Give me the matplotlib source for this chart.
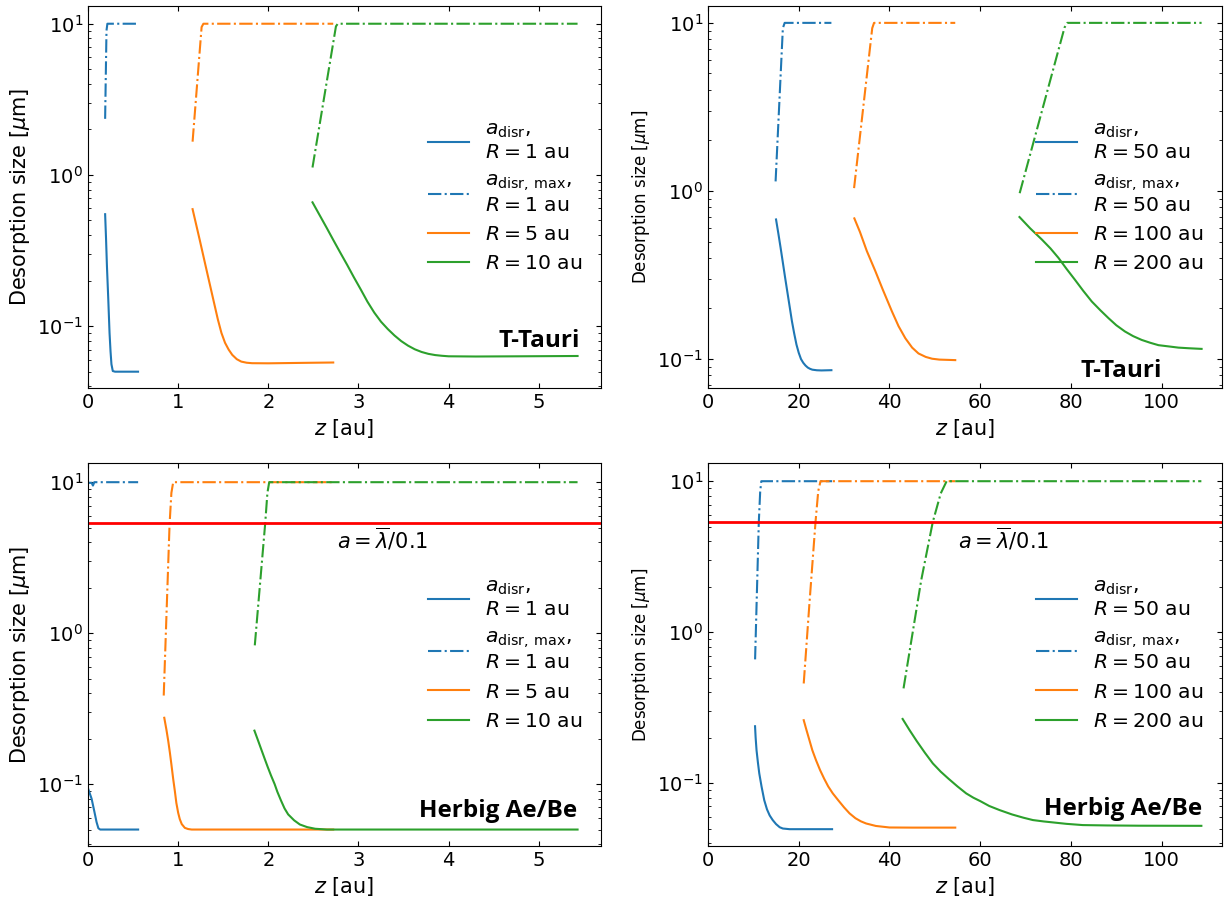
import matplotlib
matplotlib.use("Agg")
import matplotlib.pyplot as plt

# ---------------- Data ----------------
# Top-left: T-Tauri, inner radii (R = 1, 5, 10 au)
tt_in_R = ["1", "5", "10"]
tt_in_z1_s = [0.19, 0.20, 0.21, 0.225, 0.239, 0.25, 0.26, 0.275, 0.30, 0.555]
tt_in_a1_s = [0.55, 0.38, 0.25, 0.15, 0.090, 0.068, 0.056, 0.0505, 0.050, 0.050]
tt_in_z1_d = [0.19, 0.205, 0.215, 0.555]
tt_in_a1_d = [2.35, 9.0, 10.0, 10.0]
tt_in_z5_s = [1.16, 1.24, 1.32, 1.40, 1.44, 1.48, 1.52, 1.56, 1.60, 1.65, 1.70, 1.76, 1.82,
              2.0, 2.4, 2.72]
tt_in_a5_s = [0.594, 0.37, 0.228, 0.141, 0.111, 0.0902, 0.0776, 0.070, 0.0646, 0.0605,
              0.0583, 0.0573, 0.0569, 0.0568, 0.0572, 0.0575]
tt_in_z5_d = [1.16, 1.26, 1.28, 2.72]
tt_in_a5_d = [1.66, 9.5, 10.0, 10.0]
tt_in_z10_s = [2.49, 2.57, 2.65, 2.72, 2.8, 2.875, 2.95, 3.025, 3.1, 3.175, 3.25, 3.325, 3.4,
               3.475, 3.55, 3.625, 3.7, 3.775, 3.85, 3.925, 4.0, 4.3, 4.8, 5.43]
tt_in_a10_s = [0.659, 0.541, 0.444, 0.372, 0.305, 0.254, 0.210, 0.175, 0.145, 0.123, 0.107,
               0.0957, 0.0867, 0.0796, 0.0743, 0.0703, 0.0675, 0.0656, 0.0644, 0.0637,
               0.0632, 0.063, 0.0632, 0.0635]
tt_in_z10_d = [2.49, 2.75, 2.77, 5.43]
tt_in_a10_d = [1.12, 9.6, 10.0, 10.0]

# Top-right: T-Tauri, outer radii (R = 50, 100, 200 au)
tt_out_R = ["50", "100", "200"]
tt_out_z50_s = [15.0, 15.5, 16.0, 16.5, 17.0, 17.5, 18.0, 18.5, 19.0, 19.5, 20.0, 20.5, 21.0,
                21.5, 22.0, 22.5, 23.0, 24.0, 25.0, 27.2]
tt_out_a50_s = [0.677, 0.56, 0.46, 0.375, 0.305, 0.25, 0.205, 0.168, 0.142, 0.122, 0.109,
                0.100, 0.095, 0.0915, 0.089, 0.0875, 0.0865, 0.0858, 0.0856, 0.0859]
tt_out_z50_d = [14.9, 16.5, 16.9, 27.2]
tt_out_a50_d = [1.14, 9.3, 10.0, 10.0]
tt_out_z100_s = [32.26, 33.5, 35.0, 36.9, 38.5, 40.55, 42.0, 43.5, 45.0, 46.4, 48.0, 49.4,
                 51.0, 54.5]
tt_out_a100_s = [0.687, 0.57, 0.44, 0.333, 0.26, 0.192, 0.157, 0.133, 0.117, 0.108, 0.103,
                 0.1005, 0.0993, 0.0986]
tt_out_z100_d = [32.2, 36.2, 36.6, 54.5]
tt_out_a100_d = [1.04, 9.3, 10.0, 10.0]
tt_out_z200_s = [68.66, 71.0, 73.6, 75.5, 77.25, 79.0, 80.9, 82.7, 84.6, 86.5, 88.3, 90.0,
                 91.9, 93.7, 95.6, 97.5, 99.3, 101.5, 103.7, 106.0, 108.8]
tt_out_a200_s = [0.70, 0.60, 0.514, 0.455, 0.40, 0.345, 0.296, 0.255, 0.220, 0.195, 0.175,
                 0.159, 0.146, 0.137, 0.130, 0.125, 0.121, 0.119, 0.117, 0.116, 0.115]
tt_out_z200_d = [68.7, 78.6, 79.2, 108.8]
tt_out_a200_d = [0.97, 9.4, 10.0, 10.0]

# Bottom-left: Herbig Ae/Be, inner radii (R = 1, 5, 10 au)
hb_in_R = ["1", "5", "10"]
hb_in_z1_s = [0.005, 0.04, 0.07, 0.095, 0.115, 0.135, 0.2, 0.556]
hb_in_a1_s = [0.092, 0.080, 0.066, 0.056, 0.051, 0.050, 0.050, 0.050]
hb_in_z1_d = [0.0, 0.04, 0.055, 0.07, 0.556]
hb_in_a1_d = [9.9, 9.9, 9.5, 10.0, 10.0]
hb_in_z5_s = [0.846, 0.87, 0.89, 0.908, 0.925, 0.945, 0.963, 0.98, 1.0, 1.018, 1.04, 1.074,
              1.11, 1.15, 1.5, 2.72]
hb_in_a5_s = [0.275, 0.229, 0.193, 0.162, 0.135, 0.108, 0.0902, 0.075, 0.0646, 0.0586,
              0.0543, 0.0513, 0.0504, 0.050, 0.050, 0.050]
hb_in_z5_d = [0.84, 0.87, 0.905, 0.925, 0.945, 2.72]
hb_in_a5_d = [0.386, 1.3, 5.3, 8.5, 10.0, 10.0]
hb_in_z10_s = [1.846, 1.88, 1.92, 1.96, 1.993, 2.03, 2.07, 2.1, 2.14, 2.18, 2.22, 2.287, 2.35,
               2.43, 2.52, 2.65, 5.43]
hb_in_a10_s = [0.226, 0.199, 0.171, 0.147, 0.130, 0.114, 0.100, 0.089, 0.078, 0.069, 0.063,
               0.0575, 0.054, 0.0519, 0.0506, 0.050, 0.050]
hb_in_z10_d = [1.85, 1.965, 1.99, 2.01, 5.43]
hb_in_a10_d = [0.83, 5.3, 8.5, 10.0, 10.0]

# Bottom-right: Herbig Ae/Be, outer radii (R = 50, 100, 200 au)
hb_out_R = ["50", "100", "200"]
hb_out_z50_s = [10.37, 10.5, 10.7, 11.0, 11.3, 11.8, 12.4, 13.0, 13.6, 14.26, 15.0, 15.8,
                16.5, 18.0, 27.35]
hb_out_a50_s = [0.238, 0.200, 0.165, 0.137, 0.116, 0.095, 0.077, 0.067, 0.061, 0.0569,
                0.0535, 0.051, 0.050, 0.0495, 0.0495]
hb_out_z50_d = [10.38, 10.8, 11.2, 11.5, 11.75, 27.35]
hb_out_a50_d = [0.66, 1.93, 5.37, 8.5, 10.0, 10.0]
hb_out_z100_s = [21.1, 21.7, 22.3, 23.0, 23.8, 24.7, 25.6, 26.5, 27.5, 28.7, 30.0, 31.2,
                 32.5, 33.7, 34.85, 37.0, 40.0, 45.0, 54.5]
hb_out_a100_s = [0.261, 0.225, 0.195, 0.165, 0.142, 0.122, 0.107, 0.095, 0.0855, 0.077,
                 0.069, 0.063, 0.0585, 0.0558, 0.054, 0.052, 0.0508, 0.0507, 0.0507]
hb_out_z100_d = [21.1, 22.36, 23.7, 24.3, 24.8, 54.5]
hb_out_a100_d = [0.457, 1.55, 5.37, 8.6, 10.0, 10.0]
hb_out_z200_s = [42.9, 44.4, 46.0, 47.8, 49.56, 51.3, 53.0, 55.0, 56.9, 58.5, 60.0, 62.0,
                 64.3, 67.0, 69.5, 71.6, 74.0, 76.0, 79.0, 82.6, 88.0, 95.0, 108.75]
hb_out_a200_s = [0.266, 0.225, 0.19, 0.159, 0.135, 0.119, 0.107, 0.095, 0.0855, 0.080,
                 0.076, 0.0705, 0.0662, 0.0620, 0.0590, 0.0569, 0.0557, 0.0549, 0.0537,
                 0.0527, 0.0524, 0.0522, 0.0521]
hb_out_z200_d = [43.1, 47.0, 49.55, 51.3, 52.6, 108.75]
hb_out_a200_d = [0.424, 2.21, 5.37, 8.3, 10.0, 10.0]

a_lambda = 5.35  # a = lambda_bar / 0.1

panel_titles = ["T-Tauri", "T-Tauri", "Herbig Ae/Be", "Herbig Ae/Be"]

# ---------------- Plotting ----------------
fig = plt.figure(figsize=(12.28, 9.01), dpi=100)
W, H = 1228.0, 901.0


def axes_px(l, t, r, b):
    return fig.add_axes([l / W, 1 - b / H, (r - l) / W, (b - t) / H])


colors = ["#1f77b4", "#ff7f0e", "#2ca02c"]


def draw_panel(ax, R, curves, title, title_pos, xlim, ylim, ylab_size,
               red=False, red_text_pos=None):
    handles = []
    for i, (zs, as_, zd, ad) in enumerate(curves):
        ls, = ax.plot(zs, as_, color=colors[i], lw=1.5, ls='-')
        ld, = ax.plot(zd, ad, color=colors[i], lw=1.5, ls='-.')
        if i == 0:
            handles += [ls, ld]
        else:
            handles.append(ls)
    if red:
        ax.axhline(a_lambda, color='red', lw=2)
        ax.text(red_text_pos[0], red_text_pos[1], r"$a=\overline{\lambda}/0.1$",
                fontsize=15, ha='left', va='baseline')
    labels = [r"$a_{\rm disr}$," + "\n" + r"$R=%s$ au" % R[0],
              r"$a_{\rm disr,\,max}$," + "\n" + r"$R=%s$ au" % R[0],
              r"$R=%s$ au" % R[1],
              r"$R=%s$ au" % R[2]]
    ax.legend(handles, labels, loc='center right', frameon=False, fontsize=14.7)
    ax.set_yscale('log')
    ax.set_xlim(*xlim)
    ax.set_ylim(*ylim)
    ax.tick_params(which='both', direction='in', top=True, right=True,
                   labelsize=14)
    ax.set_xlabel(r"$z$ [au]", fontsize=15)
    ax.set_ylabel(r"Desorption size [$\mu$m]", fontsize=ylab_size)
    ax.text(title_pos[0], title_pos[1], title, transform=ax.transAxes,
            ha='right', va='baseline', fontsize=17.5, fontweight='bold',
            family=['Open Sans', 'DejaVu Sans'])


ax1 = axes_px(88, 6, 601, 388)
draw_panel(ax1, tt_in_R,
           [(tt_in_z1_s, tt_in_a1_s, tt_in_z1_d, tt_in_a1_d),
            (tt_in_z5_s, tt_in_a5_s, tt_in_z5_d, tt_in_a5_d),
            (tt_in_z10_s, tt_in_a10_s, tt_in_z10_d, tt_in_a10_d)],
           panel_titles[0], (0.959, 0.108), (0, 5.69), (0.039, 13.1), 15)

ax2 = axes_px(708, 6, 1222, 388)
draw_panel(ax2, tt_out_R,
           [(tt_out_z50_s, tt_out_a50_s, tt_out_z50_d, tt_out_a50_d),
            (tt_out_z100_s, tt_out_a100_s, tt_out_z100_d, tt_out_a100_d),
            (tt_out_z200_s, tt_out_a200_s, tt_out_z200_d, tt_out_a200_d)],
           panel_titles[1], (0.883, 0.030), (0, 113.3), (0.0673, 12.6), 12)

ax3 = axes_px(88, 463, 601, 846)
draw_panel(ax3, hb_in_R,
           [(hb_in_z1_s, hb_in_a1_s, hb_in_z1_d, hb_in_a1_d),
            (hb_in_z5_s, hb_in_a5_s, hb_in_z5_d, hb_in_a5_d),
            (hb_in_z10_s, hb_in_a10_s, hb_in_z10_d, hb_in_a10_d)],
           panel_titles[2], (0.954, 0.0765), (0, 5.69), (0.0389, 13.4), 15,
           red=True, red_text_pos=(2.76, 3.64))

ax4 = axes_px(708, 463, 1222, 846)
draw_panel(ax4, hb_out_R,
           [(hb_out_z50_s, hb_out_a50_s, hb_out_z50_d, hb_out_a50_d),
            (hb_out_z100_s, hb_out_a100_s, hb_out_z100_d, hb_out_a100_d),
            (hb_out_z200_s, hb_out_a200_s, hb_out_z200_d, hb_out_a200_d)],
           panel_titles[3], (0.961, 0.081), (0, 113.3), (0.0383, 13.2), 12,
           red=True, red_text_pos=(55.1, 3.58))

fig.savefig("out.png", dpi=100)
